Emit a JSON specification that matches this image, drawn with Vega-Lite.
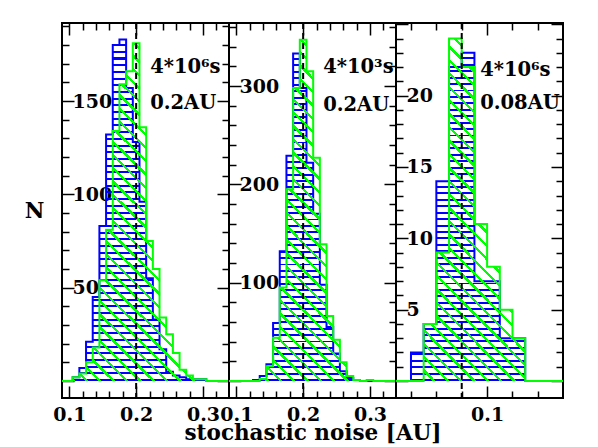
{
"$schema": "https://vega.github.io/schema/vega-lite/v6.json",
"background": "white",
"padding": {"left": 23, "top": 21, "right": 0, "bottom": 0},
"spacing": 0,
"bounds": "flush",
"datasets": {
"p1": [
{"s":"b","x":0.089,"n":0},{"s":"b","x":0.105,"n":2},{"s":"b","x":0.115,"n":7},{"s":"b","x":0.125,"n":21},{"s":"b","x":0.135,"n":45},{"s":"b","x":0.145,"n":83},{"s":"b","x":0.155,"n":132},{"s":"b","x":0.165,"n":180},{"s":"b","x":0.175,"n":183},{"s":"b","x":0.185,"n":157},{"s":"b","x":0.195,"n":128},{"s":"b","x":0.205,"n":96},{"s":"b","x":0.215,"n":55},{"s":"b","x":0.225,"n":33},{"s":"b","x":0.235,"n":17},{"s":"b","x":0.245,"n":5},{"s":"b","x":0.255,"n":3},{"s":"b","x":0.265,"n":2},{"s":"b","x":0.275,"n":1},{"s":"b","x":0.285,"n":1},{"s":"b","x":0.295,"n":1},{"s":"b","x":0.305,"n":0},{"s":"b","x":0.339,"n":0},
{"s":"g","x":0.089,"n":0},{"s":"g","x":0.105,"n":2},{"s":"g","x":0.115,"n":4},{"s":"g","x":0.125,"n":10},{"s":"g","x":0.135,"n":18},{"s":"g","x":0.145,"n":54},{"s":"g","x":0.155,"n":81},{"s":"g","x":0.165,"n":134},{"s":"g","x":0.175,"n":159},{"s":"g","x":0.185,"n":166},{"s":"g","x":0.195,"n":181},{"s":"g","x":0.205,"n":136},{"s":"g","x":0.215,"n":75},{"s":"g","x":0.225,"n":60},{"s":"g","x":0.235,"n":34},{"s":"g","x":0.245,"n":25},{"s":"g","x":0.255,"n":15},{"s":"g","x":0.265,"n":6},{"s":"g","x":0.275,"n":3},{"s":"g","x":0.285,"n":1},{"s":"g","x":0.295,"n":1},{"s":"g","x":0.305,"n":0},{"s":"g","x":0.339,"n":0}
],
"p2": [
{"s":"b","x":0.089,"n":0},{"s":"b","x":0.125,"n":1},{"s":"b","x":0.135,"n":5},{"s":"b","x":0.145,"n":17},{"s":"b","x":0.155,"n":59},{"s":"b","x":0.165,"n":132},{"s":"b","x":0.175,"n":229},{"s":"b","x":0.185,"n":333},{"s":"b","x":0.195,"n":298},{"s":"b","x":0.205,"n":222},{"s":"b","x":0.215,"n":170},{"s":"b","x":0.225,"n":98},{"s":"b","x":0.235,"n":55},{"s":"b","x":0.245,"n":28},{"s":"b","x":0.255,"n":10},{"s":"b","x":0.265,"n":3},{"s":"b","x":0.275,"n":1},{"s":"b","x":0.285,"n":0},{"s":"b","x":0.339,"n":0},
{"s":"g","x":0.089,"n":0},{"s":"g","x":0.135,"n":2},{"s":"g","x":0.145,"n":15},{"s":"g","x":0.155,"n":44},{"s":"g","x":0.165,"n":95},{"s":"g","x":0.175,"n":195},{"s":"g","x":0.185,"n":298},{"s":"g","x":0.195,"n":347},{"s":"g","x":0.205,"n":315},{"s":"g","x":0.215,"n":227},{"s":"g","x":0.225,"n":139},{"s":"g","x":0.235,"n":66},{"s":"g","x":0.245,"n":42},{"s":"g","x":0.255,"n":19},{"s":"g","x":0.265,"n":5},{"s":"g","x":0.275,"n":1},{"s":"g","x":0.285,"n":0},{"s":"g","x":0.295,"n":1},{"s":"g","x":0.305,"n":0},{"s":"g","x":0.339,"n":0}
],
"p3": [
{"s":"b","x":0.0282,"n":0},{"s":"b","x":0.04,"n":2},{"s":"b","x":0.05,"n":4},{"s":"b","x":0.06,"n":14},{"s":"b","x":0.07,"n":22},{"s":"b","x":0.08,"n":23},{"s":"b","x":0.09,"n":7},{"s":"b","x":0.10,"n":7},{"s":"b","x":0.11,"n":3},{"s":"b","x":0.12,"n":3},{"s":"b","x":0.13,"n":0},{"s":"b","x":0.1598,"n":0},
{"s":"g","x":0.0282,"n":0},{"s":"g","x":0.05,"n":4},{"s":"g","x":0.06,"n":9},{"s":"g","x":0.07,"n":24},{"s":"g","x":0.08,"n":22},{"s":"g","x":0.09,"n":11},{"s":"g","x":0.10,"n":8},{"s":"g","x":0.11,"n":5},{"s":"g","x":0.12,"n":3},{"s":"g","x":0.13,"n":0},{"s":"g","x":0.1598,"n":0}
]
},
"hconcat": [
{
"width": 167, "height": 375,
"data": {"name": "p1"},
"layer": [
{"transform": [{"filter": "datum.s === 'b'"}],
 "mark": {"type": "area", "style": "bh", "interpolate": "step-after", "clip": true},
 "encoding": {
  "x": {"field": "x", "type": "quantitative", "scale": {"domain": [0.089, 0.339], "nice": false, "zero": false}, "axis": null},
  "y": {"field": "n", "type": "quantitative", "stack": null, "scale": {"domain": [-9.1, 191.8], "nice": false, "zero": false}, "axis": null}}},
{"transform": [{"filter": "datum.s === 'b'"}],
 "mark": {"type": "line", "interpolate": "step-after", "color": "#0000ff", "strokeWidth": 2, "clip": true},
 "encoding": {
  "x": {"field": "x", "type": "quantitative", "scale": {"domain": [0.089, 0.339], "nice": false, "zero": false},
   "axis": {"orient": "bottom", "values": [0.1,0.12,0.14,0.16,0.18,0.2,0.22,0.24,0.26,0.28,0.3,0.32],
    "tickSize": {"condition": {"test": "abs(datum.value*10-round(datum.value*10))<0.001", "value": -12}, "value": -7},
    "labelExpr": "abs(datum.value*10-round(datum.value*10))<0.001 ? format(datum.value,'.1f') : ''",
    "labelPadding": 19, "title": null}},
  "y": {"field": "n", "type": "quantitative", "stack": null, "scale": {"domain": [-9.1, 191.8], "nice": false, "zero": false},
   "axis": {"orient": "left", "values": [0,10,20,30,40,50,60,70,80,90,100,110,120,130,140,150,160,170,180,190],
    "tickSize": {"condition": {"test": "datum.value % 50 === 0", "value": -12}, "value": -7},
    "labelExpr": "datum.value % 50 === 0 && datum.value > 0 ? datum.label : ''",
    "labelFontSize": {"condition": {"test": "datum.value % 50 === 0 && datum.value > 0", "value": 19}, "value": 0},
    "labelAlign": "left", "labelBaseline": "middle", "labelPadding": 2,
    "title": "N", "titleAngle": 0, "titleX": -28, "titleY": 188, "titleAlign": "center", "titleBaseline": "middle"}}}},
{"transform": [{"filter": "datum.s === 'g'"}],
 "mark": {"type": "area", "style": "gh", "interpolate": "step-after", "clip": true},
 "encoding": {
  "x": {"field": "x", "type": "quantitative", "scale": {"domain": [0.089, 0.339], "nice": false, "zero": false}, "axis": null},
  "y": {"field": "n", "type": "quantitative", "stack": null, "scale": {"domain": [-9.1, 191.8], "nice": false, "zero": false}, "axis": null}}},
{"transform": [{"filter": "datum.s === 'g'"}],
 "mark": {"type": "line", "interpolate": "step-after", "color": "#00ff00", "strokeWidth": 2, "clip": true},
 "encoding": {
  "x": {"field": "x", "type": "quantitative", "scale": {"domain": [0.089, 0.339], "nice": false, "zero": false},
   "axis": {"orient": "top", "values": [0.1,0.12,0.14,0.16,0.18,0.2,0.22,0.24,0.26,0.28,0.3,0.32],
    "tickSize": {"condition": {"test": "abs(datum.value*10-round(datum.value*10))<0.001", "value": -12}, "value": -7},
    "labels": false, "title": null}},
  "y": {"field": "n", "type": "quantitative", "stack": null, "scale": {"domain": [-9.1, 191.8], "nice": false, "zero": false},
   "axis": {"orient": "right", "values": [0,10,20,30,40,50,60,70,80,90,100,110,120,130,140,150,160,170,180,190],
    "tickSize": {"condition": {"test": "datum.value % 50 === 0", "value": -12}, "value": -7},
    "labels": false, "title": null}}}},
{"data": {"values": [{"v": 0.2}]},
 "mark": {"type": "rule", "color": "black", "strokeWidth": 2, "strokeDash": [6, 4]},
 "encoding": {"x": {"field": "v", "type": "quantitative", "scale": {"domain": [0.089, 0.339], "nice": false, "zero": false}, "axis": null}}},
{"data": {"values": [{"t": "4*10⁶s", "x": 0.221, "y": 165}, {"t": "0.2AU", "x": 0.221, "y": 145.5}]},
 "mark": {"type": "text", "align": "left", "baseline": "alphabetic", "font": "DejaVu Serif", "fontWeight": "bold", "fontSize": 19.5, "color": "black"},
 "encoding": {
  "x": {"field": "x", "type": "quantitative", "scale": {"domain": [0.089, 0.339], "nice": false, "zero": false}, "axis": null},
  "y": {"field": "y", "type": "quantitative", "scale": {"domain": [-9.1, 191.8], "nice": false, "zero": false}, "axis": null},
  "text": {"field": "t", "type": "nominal"}}}
],
"resolve": {"axis": {"x": "independent", "y": "independent"}}
},
{
"width": 167, "height": 375,
"data": {"name": "p2"},
"layer": [
{"transform": [{"filter": "datum.s === 'b'"}],
 "mark": {"type": "area", "style": "bh", "interpolate": "step-after", "clip": true},
 "encoding": {
  "x": {"field": "x", "type": "quantitative", "scale": {"domain": [0.089, 0.339], "nice": false, "zero": false}, "axis": null},
  "y": {"field": "n", "type": "quantitative", "stack": null, "scale": {"domain": [-17.3, 364.1], "nice": false, "zero": false}, "axis": null}}},
{"transform": [{"filter": "datum.s === 'b'"}],
 "mark": {"type": "line", "interpolate": "step-after", "color": "#0000ff", "strokeWidth": 2, "clip": true},
 "encoding": {
  "x": {"field": "x", "type": "quantitative", "scale": {"domain": [0.089, 0.339], "nice": false, "zero": false},
   "axis": {"orient": "bottom", "values": [0.1,0.12,0.14,0.16,0.18,0.2,0.22,0.24,0.26,0.28,0.3,0.32],
    "tickSize": {"condition": {"test": "abs(datum.value*10-round(datum.value*10))<0.001", "value": -12}, "value": -7},
    "labelExpr": "abs(datum.value*10-round(datum.value*10))<0.001 ? format(datum.value,'.1f') : ''",
    "labelPadding": 19, "title": "stochastic noise [AU]", "titlePadding": -7}},
  "y": {"field": "n", "type": "quantitative", "stack": null, "scale": {"domain": [-17.3, 364.1], "nice": false, "zero": false},
   "axis": {"orient": "left", "values": [0,20,40,60,80,100,120,140,160,180,200,220,240,260,280,300,320,340,360],
    "tickSize": {"condition": {"test": "datum.value % 100 === 0", "value": -12}, "value": -7},
    "labelExpr": "datum.value % 100 === 0 && datum.value > 0 ? datum.label : ''",
    "labelFontSize": {"condition": {"test": "datum.value % 100 === 0 && datum.value > 0", "value": 19}, "value": 0},
    "labelAlign": "left", "labelBaseline": "middle", "labelPadding": 2, "title": null}}}},
{"transform": [{"filter": "datum.s === 'g'"}],
 "mark": {"type": "area", "style": "gh", "interpolate": "step-after", "clip": true},
 "encoding": {
  "x": {"field": "x", "type": "quantitative", "scale": {"domain": [0.089, 0.339], "nice": false, "zero": false}, "axis": null},
  "y": {"field": "n", "type": "quantitative", "stack": null, "scale": {"domain": [-17.3, 364.1], "nice": false, "zero": false}, "axis": null}}},
{"transform": [{"filter": "datum.s === 'g'"}],
 "mark": {"type": "line", "interpolate": "step-after", "color": "#00ff00", "strokeWidth": 2, "clip": true},
 "encoding": {
  "x": {"field": "x", "type": "quantitative", "scale": {"domain": [0.089, 0.339], "nice": false, "zero": false},
   "axis": {"orient": "top", "values": [0.1,0.12,0.14,0.16,0.18,0.2,0.22,0.24,0.26,0.28,0.3,0.32],
    "tickSize": {"condition": {"test": "abs(datum.value*10-round(datum.value*10))<0.001", "value": -12}, "value": -7},
    "labels": false, "title": null}},
  "y": {"field": "n", "type": "quantitative", "stack": null, "scale": {"domain": [-17.3, 364.1], "nice": false, "zero": false},
   "axis": {"orient": "right", "values": [0,20,40,60,80,100,120,140,160,180,200,220,240,260,280,300,320,340,360],
    "tickSize": {"condition": {"test": "datum.value % 100 === 0", "value": -12}, "value": -7},
    "labels": false, "title": null}}}},
{"data": {"values": [{"v": 0.2}]},
 "mark": {"type": "rule", "color": "black", "strokeWidth": 2, "strokeDash": [6, 4]},
 "encoding": {"x": {"field": "v", "type": "quantitative", "scale": {"domain": [0.089, 0.339], "nice": false, "zero": false}, "axis": null}}},
{"data": {"values": [{"t": "4*10³s", "x": 0.230, "y": 313.5}, {"t": "0.2AU", "x": 0.230, "y": 274.6}]},
 "mark": {"type": "text", "align": "left", "baseline": "alphabetic", "font": "DejaVu Serif", "fontWeight": "bold", "fontSize": 19.5, "color": "black"},
 "encoding": {
  "x": {"field": "x", "type": "quantitative", "scale": {"domain": [0.089, 0.339], "nice": false, "zero": false}, "axis": null},
  "y": {"field": "y", "type": "quantitative", "scale": {"domain": [-17.3, 364.1], "nice": false, "zero": false}, "axis": null},
  "text": {"field": "t", "type": "nominal"}}}
],
"resolve": {"axis": {"x": "independent", "y": "independent"}}
},
{
"width": 167, "height": 375,
"data": {"name": "p3"},
"layer": [
{"transform": [{"filter": "datum.s === 'b'"}],
 "mark": {"type": "area", "style": "bh", "interpolate": "step-after", "clip": true},
 "encoding": {
  "x": {"field": "x", "type": "quantitative", "scale": {"domain": [0.0282, 0.1598], "nice": false, "zero": false}, "axis": null},
  "y": {"field": "n", "type": "quantitative", "stack": null, "scale": {"domain": [-1.19, 25.09], "nice": false, "zero": false}, "axis": null}}},
{"transform": [{"filter": "datum.s === 'b'"}],
 "mark": {"type": "line", "interpolate": "step-after", "color": "#0000ff", "strokeWidth": 2, "clip": true},
 "encoding": {
  "x": {"field": "x", "type": "quantitative", "scale": {"domain": [0.0282, 0.1598], "nice": false, "zero": false},
   "axis": {"orient": "bottom", "values": [0.04,0.06,0.08,0.1,0.12,0.14],
    "tickSize": {"condition": {"test": "abs(datum.value-0.1)<0.001", "value": -12}, "value": -7},
    "labelExpr": "abs(datum.value-0.1)<0.001 ? format(datum.value,'.1f') : ''",
    "labelPadding": 19, "title": null}},
  "y": {"field": "n", "type": "quantitative", "stack": null, "scale": {"domain": [-1.19, 25.09], "nice": false, "zero": false},
   "axis": {"orient": "left", "values": [0,1,2,3,4,5,6,7,8,9,10,11,12,13,14,15,16,17,18,19,20,21,22,23,24,25],
    "tickSize": {"condition": {"test": "datum.value % 5 === 0", "value": -12}, "value": -7},
    "labelExpr": "datum.value % 5 === 0 && datum.value > 0 && datum.value < 25 ? datum.label : ''",
    "labelFontSize": {"condition": {"test": "datum.value % 5 === 0 && datum.value > 0 && datum.value < 25", "value": 19}, "value": 0},
    "labelAlign": "left", "labelBaseline": "middle", "labelPadding": 2, "title": null}}}},
{"transform": [{"filter": "datum.s === 'g'"}],
 "mark": {"type": "area", "style": "gh", "interpolate": "step-after", "clip": true},
 "encoding": {
  "x": {"field": "x", "type": "quantitative", "scale": {"domain": [0.0282, 0.1598], "nice": false, "zero": false}, "axis": null},
  "y": {"field": "n", "type": "quantitative", "stack": null, "scale": {"domain": [-1.19, 25.09], "nice": false, "zero": false}, "axis": null}}},
{"transform": [{"filter": "datum.s === 'g'"}],
 "mark": {"type": "line", "interpolate": "step-after", "color": "#00ff00", "strokeWidth": 2, "clip": true},
 "encoding": {
  "x": {"field": "x", "type": "quantitative", "scale": {"domain": [0.0282, 0.1598], "nice": false, "zero": false},
   "axis": {"orient": "top", "values": [0.04,0.06,0.08,0.1,0.12,0.14],
    "tickSize": {"condition": {"test": "abs(datum.value-0.1)<0.001", "value": -12}, "value": -7},
    "labels": false, "title": null}},
  "y": {"field": "n", "type": "quantitative", "stack": null, "scale": {"domain": [-1.19, 25.09], "nice": false, "zero": false},
   "axis": {"orient": "right", "values": [0,1,2,3,4,5,6,7,8,9,10,11,12,13,14,15,16,17,18,19,20,21,22,23,24,25],
    "tickSize": {"condition": {"test": "datum.value % 5 === 0", "value": -12}, "value": -7},
    "labels": false, "title": null}}}},
{"data": {"values": [{"v": 0.08}]},
 "mark": {"type": "rule", "color": "black", "strokeWidth": 2, "strokeDash": [6, 4]},
 "encoding": {"x": {"field": "v", "type": "quantitative", "scale": {"domain": [0.0282, 0.1598], "nice": false, "zero": false}, "axis": null}}},
{"data": {"values": [{"t": "4*10⁶s", "x": 0.0945, "y": 21.4}, {"t": "0.08AU", "x": 0.0945, "y": 19.05}]},
 "mark": {"type": "text", "align": "left", "baseline": "alphabetic", "font": "DejaVu Serif", "fontWeight": "bold", "fontSize": 19.5, "color": "black"},
 "encoding": {
  "x": {"field": "x", "type": "quantitative", "scale": {"domain": [0.0282, 0.1598], "nice": false, "zero": false}, "axis": null},
  "y": {"field": "y", "type": "quantitative", "scale": {"domain": [-1.19, 25.09], "nice": false, "zero": false}, "axis": null},
  "text": {"field": "t", "type": "nominal"}}}
],
"resolve": {"axis": {"x": "independent", "y": "independent"}}
}
],
"config": {
"view": {"stroke": "black", "strokeWidth": 2},
"axis": {"domain": false, "grid": false, "tickColor": "black", "tickWidth": 1.5, "labelFont": "DejaVu Serif", "labelFontWeight": "bold", "labelFontSize": 19, "labelColor": "black", "labelOverlap": false, "labelFlush": false, "labelBound": false, "titleFont": "DejaVu Serif", "titleFontSize": 21.5, "titleFontWeight": "bold", "titleColor": "black"},
"style": {
"bh": {"color": {"gradient": "linear", "x1": 0, "y1": 0, "x2": 0, "y2": 1, "stops": [
{"offset":0,"color":"rgba(0,0,255,0)"},{"offset":0.0137,"color":"rgba(0,0,255,0)"},{"offset":0.0137,"color":"#0000ff"},{"offset":0.0196,"color":"#0000ff"},
{"offset":0.0196,"color":"rgba(0,0,255,0)"},{"offset":0.0333,"color":"rgba(0,0,255,0)"},{"offset":0.0333,"color":"#0000ff"},{"offset":0.0392,"color":"#0000ff"},
{"offset":0.0392,"color":"rgba(0,0,255,0)"},{"offset":0.0529,"color":"rgba(0,0,255,0)"},{"offset":0.0529,"color":"#0000ff"},{"offset":0.0588,"color":"#0000ff"},
{"offset":0.0588,"color":"rgba(0,0,255,0)"},{"offset":0.0725,"color":"rgba(0,0,255,0)"},{"offset":0.0725,"color":"#0000ff"},{"offset":0.0784,"color":"#0000ff"},
{"offset":0.0784,"color":"rgba(0,0,255,0)"},{"offset":0.0922,"color":"rgba(0,0,255,0)"},{"offset":0.0922,"color":"#0000ff"},{"offset":0.098,"color":"#0000ff"},
{"offset":0.098,"color":"rgba(0,0,255,0)"},{"offset":0.1118,"color":"rgba(0,0,255,0)"},{"offset":0.1118,"color":"#0000ff"},{"offset":0.1176,"color":"#0000ff"},
{"offset":0.1176,"color":"rgba(0,0,255,0)"},{"offset":0.1314,"color":"rgba(0,0,255,0)"},{"offset":0.1314,"color":"#0000ff"},{"offset":0.1373,"color":"#0000ff"},
{"offset":0.1373,"color":"rgba(0,0,255,0)"},{"offset":0.151,"color":"rgba(0,0,255,0)"},{"offset":0.151,"color":"#0000ff"},{"offset":0.1569,"color":"#0000ff"},
{"offset":0.1569,"color":"rgba(0,0,255,0)"},{"offset":0.1706,"color":"rgba(0,0,255,0)"},{"offset":0.1706,"color":"#0000ff"},{"offset":0.1765,"color":"#0000ff"},
{"offset":0.1765,"color":"rgba(0,0,255,0)"},{"offset":0.1902,"color":"rgba(0,0,255,0)"},{"offset":0.1902,"color":"#0000ff"},{"offset":0.1961,"color":"#0000ff"},
{"offset":0.1961,"color":"rgba(0,0,255,0)"},{"offset":0.2098,"color":"rgba(0,0,255,0)"},{"offset":0.2098,"color":"#0000ff"},{"offset":0.2157,"color":"#0000ff"},
{"offset":0.2157,"color":"rgba(0,0,255,0)"},{"offset":0.2294,"color":"rgba(0,0,255,0)"},{"offset":0.2294,"color":"#0000ff"},{"offset":0.2353,"color":"#0000ff"},
{"offset":0.2353,"color":"rgba(0,0,255,0)"},{"offset":0.249,"color":"rgba(0,0,255,0)"},{"offset":0.249,"color":"#0000ff"},{"offset":0.2549,"color":"#0000ff"},
{"offset":0.2549,"color":"rgba(0,0,255,0)"},{"offset":0.2686,"color":"rgba(0,0,255,0)"},{"offset":0.2686,"color":"#0000ff"},{"offset":0.2745,"color":"#0000ff"},
{"offset":0.2745,"color":"rgba(0,0,255,0)"},{"offset":0.2882,"color":"rgba(0,0,255,0)"},{"offset":0.2882,"color":"#0000ff"},{"offset":0.2941,"color":"#0000ff"},
{"offset":0.2941,"color":"rgba(0,0,255,0)"},{"offset":0.3078,"color":"rgba(0,0,255,0)"},{"offset":0.3078,"color":"#0000ff"},{"offset":0.3137,"color":"#0000ff"},
{"offset":0.3137,"color":"rgba(0,0,255,0)"},{"offset":0.3275,"color":"rgba(0,0,255,0)"},{"offset":0.3275,"color":"#0000ff"},{"offset":0.3333,"color":"#0000ff"},
{"offset":0.3333,"color":"rgba(0,0,255,0)"},{"offset":0.3471,"color":"rgba(0,0,255,0)"},{"offset":0.3471,"color":"#0000ff"},{"offset":0.3529,"color":"#0000ff"},
{"offset":0.3529,"color":"rgba(0,0,255,0)"},{"offset":0.3667,"color":"rgba(0,0,255,0)"},{"offset":0.3667,"color":"#0000ff"},{"offset":0.3725,"color":"#0000ff"},
{"offset":0.3725,"color":"rgba(0,0,255,0)"},{"offset":0.3863,"color":"rgba(0,0,255,0)"},{"offset":0.3863,"color":"#0000ff"},{"offset":0.3922,"color":"#0000ff"},
{"offset":0.3922,"color":"rgba(0,0,255,0)"},{"offset":0.4059,"color":"rgba(0,0,255,0)"},{"offset":0.4059,"color":"#0000ff"},{"offset":0.4118,"color":"#0000ff"},
{"offset":0.4118,"color":"rgba(0,0,255,0)"},{"offset":0.4255,"color":"rgba(0,0,255,0)"},{"offset":0.4255,"color":"#0000ff"},{"offset":0.4314,"color":"#0000ff"},
{"offset":0.4314,"color":"rgba(0,0,255,0)"},{"offset":0.4451,"color":"rgba(0,0,255,0)"},{"offset":0.4451,"color":"#0000ff"},{"offset":0.451,"color":"#0000ff"},
{"offset":0.451,"color":"rgba(0,0,255,0)"},{"offset":0.4647,"color":"rgba(0,0,255,0)"},{"offset":0.4647,"color":"#0000ff"},{"offset":0.4706,"color":"#0000ff"},
{"offset":0.4706,"color":"rgba(0,0,255,0)"},{"offset":0.4843,"color":"rgba(0,0,255,0)"},{"offset":0.4843,"color":"#0000ff"},{"offset":0.4902,"color":"#0000ff"},
{"offset":0.4902,"color":"rgba(0,0,255,0)"},{"offset":0.5039,"color":"rgba(0,0,255,0)"},{"offset":0.5039,"color":"#0000ff"},{"offset":0.5098,"color":"#0000ff"},
{"offset":0.5098,"color":"rgba(0,0,255,0)"},{"offset":0.5235,"color":"rgba(0,0,255,0)"},{"offset":0.5235,"color":"#0000ff"},{"offset":0.5294,"color":"#0000ff"},
{"offset":0.5294,"color":"rgba(0,0,255,0)"},{"offset":0.5431,"color":"rgba(0,0,255,0)"},{"offset":0.5431,"color":"#0000ff"},{"offset":0.549,"color":"#0000ff"},
{"offset":0.549,"color":"rgba(0,0,255,0)"},{"offset":0.5627,"color":"rgba(0,0,255,0)"},{"offset":0.5627,"color":"#0000ff"},{"offset":0.5686,"color":"#0000ff"},
{"offset":0.5686,"color":"rgba(0,0,255,0)"},{"offset":0.5824,"color":"rgba(0,0,255,0)"},{"offset":0.5824,"color":"#0000ff"},{"offset":0.5882,"color":"#0000ff"},
{"offset":0.5882,"color":"rgba(0,0,255,0)"},{"offset":0.602,"color":"rgba(0,0,255,0)"},{"offset":0.602,"color":"#0000ff"},{"offset":0.6078,"color":"#0000ff"},
{"offset":0.6078,"color":"rgba(0,0,255,0)"},{"offset":0.6216,"color":"rgba(0,0,255,0)"},{"offset":0.6216,"color":"#0000ff"},{"offset":0.6275,"color":"#0000ff"},
{"offset":0.6275,"color":"rgba(0,0,255,0)"},{"offset":0.6412,"color":"rgba(0,0,255,0)"},{"offset":0.6412,"color":"#0000ff"},{"offset":0.6471,"color":"#0000ff"},
{"offset":0.6471,"color":"rgba(0,0,255,0)"},{"offset":0.6608,"color":"rgba(0,0,255,0)"},{"offset":0.6608,"color":"#0000ff"},{"offset":0.6667,"color":"#0000ff"},
{"offset":0.6667,"color":"rgba(0,0,255,0)"},{"offset":0.6804,"color":"rgba(0,0,255,0)"},{"offset":0.6804,"color":"#0000ff"},{"offset":0.6863,"color":"#0000ff"},
{"offset":0.6863,"color":"rgba(0,0,255,0)"},{"offset":0.7,"color":"rgba(0,0,255,0)"},{"offset":0.7,"color":"#0000ff"},{"offset":0.7059,"color":"#0000ff"},
{"offset":0.7059,"color":"rgba(0,0,255,0)"},{"offset":0.7196,"color":"rgba(0,0,255,0)"},{"offset":0.7196,"color":"#0000ff"},{"offset":0.7255,"color":"#0000ff"},
{"offset":0.7255,"color":"rgba(0,0,255,0)"},{"offset":0.7392,"color":"rgba(0,0,255,0)"},{"offset":0.7392,"color":"#0000ff"},{"offset":0.7451,"color":"#0000ff"},
{"offset":0.7451,"color":"rgba(0,0,255,0)"},{"offset":0.7588,"color":"rgba(0,0,255,0)"},{"offset":0.7588,"color":"#0000ff"},{"offset":0.7647,"color":"#0000ff"},
{"offset":0.7647,"color":"rgba(0,0,255,0)"},{"offset":0.7784,"color":"rgba(0,0,255,0)"},{"offset":0.7784,"color":"#0000ff"},{"offset":0.7843,"color":"#0000ff"},
{"offset":0.7843,"color":"rgba(0,0,255,0)"},{"offset":0.798,"color":"rgba(0,0,255,0)"},{"offset":0.798,"color":"#0000ff"},{"offset":0.8039,"color":"#0000ff"},
{"offset":0.8039,"color":"rgba(0,0,255,0)"},{"offset":0.8176,"color":"rgba(0,0,255,0)"},{"offset":0.8176,"color":"#0000ff"},{"offset":0.8235,"color":"#0000ff"},
{"offset":0.8235,"color":"rgba(0,0,255,0)"},{"offset":0.8373,"color":"rgba(0,0,255,0)"},{"offset":0.8373,"color":"#0000ff"},{"offset":0.8431,"color":"#0000ff"},
{"offset":0.8431,"color":"rgba(0,0,255,0)"},{"offset":0.8569,"color":"rgba(0,0,255,0)"},{"offset":0.8569,"color":"#0000ff"},{"offset":0.8627,"color":"#0000ff"},
{"offset":0.8627,"color":"rgba(0,0,255,0)"},{"offset":0.8765,"color":"rgba(0,0,255,0)"},{"offset":0.8765,"color":"#0000ff"},{"offset":0.8824,"color":"#0000ff"},
{"offset":0.8824,"color":"rgba(0,0,255,0)"},{"offset":0.8961,"color":"rgba(0,0,255,0)"},{"offset":0.8961,"color":"#0000ff"},{"offset":0.902,"color":"#0000ff"},
{"offset":0.902,"color":"rgba(0,0,255,0)"},{"offset":0.9157,"color":"rgba(0,0,255,0)"},{"offset":0.9157,"color":"#0000ff"},{"offset":0.9216,"color":"#0000ff"},
{"offset":0.9216,"color":"rgba(0,0,255,0)"},{"offset":0.9353,"color":"rgba(0,0,255,0)"},{"offset":0.9353,"color":"#0000ff"},{"offset":0.9412,"color":"#0000ff"},
{"offset":0.9412,"color":"rgba(0,0,255,0)"},{"offset":0.9549,"color":"rgba(0,0,255,0)"},{"offset":0.9549,"color":"#0000ff"},{"offset":0.9608,"color":"#0000ff"},
{"offset":0.9608,"color":"rgba(0,0,255,0)"},{"offset":0.9745,"color":"rgba(0,0,255,0)"},{"offset":0.9745,"color":"#0000ff"},{"offset":0.9804,"color":"#0000ff"},
{"offset":0.9804,"color":"rgba(0,0,255,0)"},{"offset":0.9941,"color":"rgba(0,0,255,0)"},{"offset":0.9941,"color":"#0000ff"},{"offset":1,"color":"#0000ff"}
]}},
"gh": {"color": {"gradient": "linear", "x1": 0, "y1": 1, "x2": 0.5901, "y2": -0.2013, "stops": [
{"offset":0,"color":"rgba(0,255,0,0)"},{"offset":0.0197,"color":"rgba(0,255,0,0)"},{"offset":0.0197,"color":"#00ff00"},{"offset":0.0263,"color":"#00ff00"},
{"offset":0.0263,"color":"rgba(0,255,0,0)"},{"offset":0.0461,"color":"rgba(0,255,0,0)"},{"offset":0.0461,"color":"#00ff00"},{"offset":0.0526,"color":"#00ff00"},
{"offset":0.0526,"color":"rgba(0,255,0,0)"},{"offset":0.0724,"color":"rgba(0,255,0,0)"},{"offset":0.0724,"color":"#00ff00"},{"offset":0.0789,"color":"#00ff00"},
{"offset":0.0789,"color":"rgba(0,255,0,0)"},{"offset":0.0987,"color":"rgba(0,255,0,0)"},{"offset":0.0987,"color":"#00ff00"},{"offset":0.1053,"color":"#00ff00"},
{"offset":0.1053,"color":"rgba(0,255,0,0)"},{"offset":0.125,"color":"rgba(0,255,0,0)"},{"offset":0.125,"color":"#00ff00"},{"offset":0.1316,"color":"#00ff00"},
{"offset":0.1316,"color":"rgba(0,255,0,0)"},{"offset":0.1513,"color":"rgba(0,255,0,0)"},{"offset":0.1513,"color":"#00ff00"},{"offset":0.1579,"color":"#00ff00"},
{"offset":0.1579,"color":"rgba(0,255,0,0)"},{"offset":0.1776,"color":"rgba(0,255,0,0)"},{"offset":0.1776,"color":"#00ff00"},{"offset":0.1842,"color":"#00ff00"},
{"offset":0.1842,"color":"rgba(0,255,0,0)"},{"offset":0.2039,"color":"rgba(0,255,0,0)"},{"offset":0.2039,"color":"#00ff00"},{"offset":0.2105,"color":"#00ff00"},
{"offset":0.2105,"color":"rgba(0,255,0,0)"},{"offset":0.2303,"color":"rgba(0,255,0,0)"},{"offset":0.2303,"color":"#00ff00"},{"offset":0.2368,"color":"#00ff00"},
{"offset":0.2368,"color":"rgba(0,255,0,0)"},{"offset":0.2566,"color":"rgba(0,255,0,0)"},{"offset":0.2566,"color":"#00ff00"},{"offset":0.2632,"color":"#00ff00"},
{"offset":0.2632,"color":"rgba(0,255,0,0)"},{"offset":0.2829,"color":"rgba(0,255,0,0)"},{"offset":0.2829,"color":"#00ff00"},{"offset":0.2895,"color":"#00ff00"},
{"offset":0.2895,"color":"rgba(0,255,0,0)"},{"offset":0.3092,"color":"rgba(0,255,0,0)"},{"offset":0.3092,"color":"#00ff00"},{"offset":0.3158,"color":"#00ff00"},
{"offset":0.3158,"color":"rgba(0,255,0,0)"},{"offset":0.3355,"color":"rgba(0,255,0,0)"},{"offset":0.3355,"color":"#00ff00"},{"offset":0.3421,"color":"#00ff00"},
{"offset":0.3421,"color":"rgba(0,255,0,0)"},{"offset":0.3618,"color":"rgba(0,255,0,0)"},{"offset":0.3618,"color":"#00ff00"},{"offset":0.3684,"color":"#00ff00"},
{"offset":0.3684,"color":"rgba(0,255,0,0)"},{"offset":0.3882,"color":"rgba(0,255,0,0)"},{"offset":0.3882,"color":"#00ff00"},{"offset":0.3947,"color":"#00ff00"},
{"offset":0.3947,"color":"rgba(0,255,0,0)"},{"offset":0.4145,"color":"rgba(0,255,0,0)"},{"offset":0.4145,"color":"#00ff00"},{"offset":0.4211,"color":"#00ff00"},
{"offset":0.4211,"color":"rgba(0,255,0,0)"},{"offset":0.4408,"color":"rgba(0,255,0,0)"},{"offset":0.4408,"color":"#00ff00"},{"offset":0.4474,"color":"#00ff00"},
{"offset":0.4474,"color":"rgba(0,255,0,0)"},{"offset":0.4671,"color":"rgba(0,255,0,0)"},{"offset":0.4671,"color":"#00ff00"},{"offset":0.4737,"color":"#00ff00"},
{"offset":0.4737,"color":"rgba(0,255,0,0)"},{"offset":0.4934,"color":"rgba(0,255,0,0)"},{"offset":0.4934,"color":"#00ff00"},{"offset":0.5,"color":"#00ff00"},
{"offset":0.5,"color":"rgba(0,255,0,0)"},{"offset":0.5197,"color":"rgba(0,255,0,0)"},{"offset":0.5197,"color":"#00ff00"},{"offset":0.5263,"color":"#00ff00"},
{"offset":0.5263,"color":"rgba(0,255,0,0)"},{"offset":0.5461,"color":"rgba(0,255,0,0)"},{"offset":0.5461,"color":"#00ff00"},{"offset":0.5526,"color":"#00ff00"},
{"offset":0.5526,"color":"rgba(0,255,0,0)"},{"offset":0.5724,"color":"rgba(0,255,0,0)"},{"offset":0.5724,"color":"#00ff00"},{"offset":0.5789,"color":"#00ff00"},
{"offset":0.5789,"color":"rgba(0,255,0,0)"},{"offset":0.5987,"color":"rgba(0,255,0,0)"},{"offset":0.5987,"color":"#00ff00"},{"offset":0.6053,"color":"#00ff00"},
{"offset":0.6053,"color":"rgba(0,255,0,0)"},{"offset":0.625,"color":"rgba(0,255,0,0)"},{"offset":0.625,"color":"#00ff00"},{"offset":0.6316,"color":"#00ff00"},
{"offset":0.6316,"color":"rgba(0,255,0,0)"},{"offset":0.6513,"color":"rgba(0,255,0,0)"},{"offset":0.6513,"color":"#00ff00"},{"offset":0.6579,"color":"#00ff00"},
{"offset":0.6579,"color":"rgba(0,255,0,0)"},{"offset":0.6776,"color":"rgba(0,255,0,0)"},{"offset":0.6776,"color":"#00ff00"},{"offset":0.6842,"color":"#00ff00"},
{"offset":0.6842,"color":"rgba(0,255,0,0)"},{"offset":0.7039,"color":"rgba(0,255,0,0)"},{"offset":0.7039,"color":"#00ff00"},{"offset":0.7105,"color":"#00ff00"},
{"offset":0.7105,"color":"rgba(0,255,0,0)"},{"offset":0.7303,"color":"rgba(0,255,0,0)"},{"offset":0.7303,"color":"#00ff00"},{"offset":0.7368,"color":"#00ff00"},
{"offset":0.7368,"color":"rgba(0,255,0,0)"},{"offset":0.7566,"color":"rgba(0,255,0,0)"},{"offset":0.7566,"color":"#00ff00"},{"offset":0.7632,"color":"#00ff00"},
{"offset":0.7632,"color":"rgba(0,255,0,0)"},{"offset":0.7829,"color":"rgba(0,255,0,0)"},{"offset":0.7829,"color":"#00ff00"},{"offset":0.7895,"color":"#00ff00"},
{"offset":0.7895,"color":"rgba(0,255,0,0)"},{"offset":0.8092,"color":"rgba(0,255,0,0)"},{"offset":0.8092,"color":"#00ff00"},{"offset":0.8158,"color":"#00ff00"},
{"offset":0.8158,"color":"rgba(0,255,0,0)"},{"offset":0.8355,"color":"rgba(0,255,0,0)"},{"offset":0.8355,"color":"#00ff00"},{"offset":0.8421,"color":"#00ff00"},
{"offset":0.8421,"color":"rgba(0,255,0,0)"},{"offset":0.8618,"color":"rgba(0,255,0,0)"},{"offset":0.8618,"color":"#00ff00"},{"offset":0.8684,"color":"#00ff00"},
{"offset":0.8684,"color":"rgba(0,255,0,0)"},{"offset":0.8882,"color":"rgba(0,255,0,0)"},{"offset":0.8882,"color":"#00ff00"},{"offset":0.8947,"color":"#00ff00"},
{"offset":0.8947,"color":"rgba(0,255,0,0)"},{"offset":0.9145,"color":"rgba(0,255,0,0)"},{"offset":0.9145,"color":"#00ff00"},{"offset":0.9211,"color":"#00ff00"},
{"offset":0.9211,"color":"rgba(0,255,0,0)"},{"offset":0.9408,"color":"rgba(0,255,0,0)"},{"offset":0.9408,"color":"#00ff00"},{"offset":0.9474,"color":"#00ff00"},
{"offset":0.9474,"color":"rgba(0,255,0,0)"},{"offset":0.9671,"color":"rgba(0,255,0,0)"},{"offset":0.9671,"color":"#00ff00"},{"offset":0.9737,"color":"#00ff00"},
{"offset":0.9737,"color":"rgba(0,255,0,0)"},{"offset":0.9934,"color":"rgba(0,255,0,0)"},{"offset":0.9934,"color":"#00ff00"},{"offset":1,"color":"#00ff00"}
]}}
}
}
}
